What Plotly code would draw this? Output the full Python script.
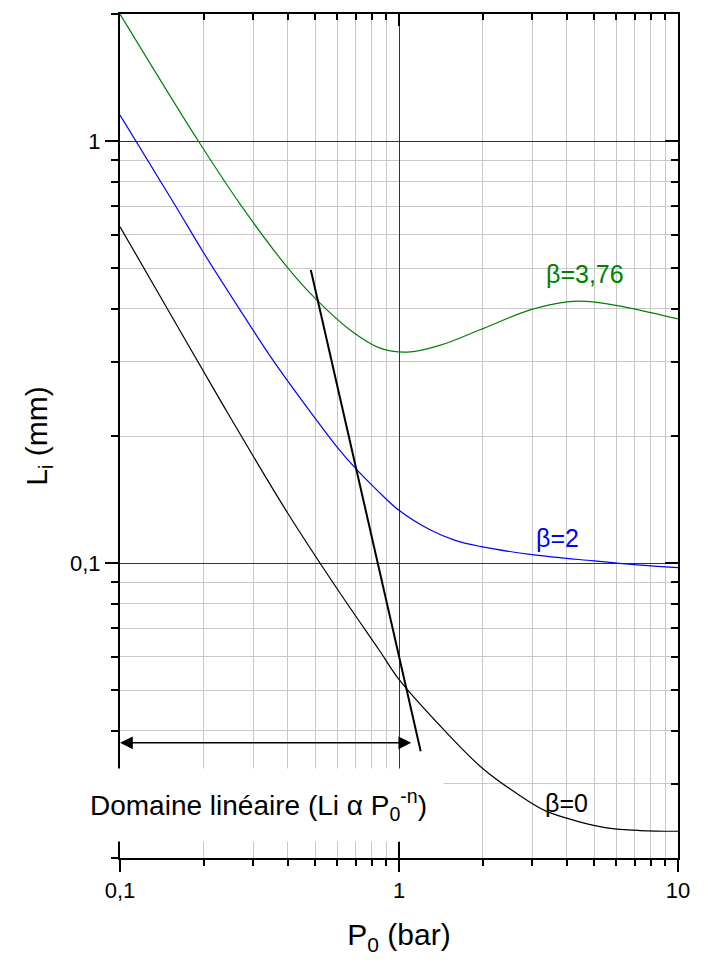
import numpy as np
import plotly.graph_objects as go

# ---- data ----
beta376_x = [0.1, 0.1909, 0.273, 0.4, 0.507, 0.6676, 0.855, 1.07, 1.40, 1.95, 2.95, 4.0, 4.96, 6.73, 10]
beta376_y = [2.0, 1.0, 0.700, 0.500, 0.4202, 0.3567, 0.323, 0.316, 0.328, 0.357, 0.398, 0.416, 0.416, 0.402, 0.379]

beta2_x = [0.1, 0.1574, 0.1989, 0.2692, 0.3594, 0.5, 0.5979, 0.7056, 0.832, 0.9942, 1.291, 1.6, 1.95,
           3.0, 4.96, 7.13, 10]
beta2_y = [1.152, 0.7055, 0.545, 0.398, 0.2976, 0.2205, 0.1888, 0.1664, 0.1491, 0.1337, 0.1199, 0.1130, 0.1095,
           0.1047, 0.1012, 0.0990, 0.0975]

beta0_x = [0.1, 0.151, 0.2283, 0.3958, 0.6144, 0.8548, 1.0, 1.483, 2.005, 2.715, 3.337, 4.3, 5.551, 7.308, 10]
beta0_y = [0.6267, 0.3908, 0.2436, 0.1325, 0.0849, 0.0618, 0.0530, 0.0396, 0.0325, 0.0281, 0.0259, 0.0245,
           0.02358, 0.02323, 0.02314]

slope_x = [0.483, 1.196]
slope_y = [0.495, 0.0358]

arrow_x = [0.1, 1.12]
arrow_y = 0.0375

x_major = [0.1, 1, 10]
x_major_text = ["0,1", "1", "10"]
y_major = [0.1, 1]
y_major_text = ["0,1", "1"]
x_minor = [m * d for d in (0.1, 1) for m in range(2, 10)]
y_minor = [m * d for d in (0.01, 0.1) for m in range(2, 10)] + [2]

labels = [("β=3,76", 4.66, 0.484, "#008000"),
          ("β=2", 3.70, 0.1148, "#0000ff"),
          ("β=0", 4.0, 0.02706, "#000000")]
domain_text = "Domaine linéaire (Li α P<sub>0</sub><sup>-n</sup>)"
domain_pos = (0.3124, 0.02677)

FONT = "Liberation Sans, Arial, sans-serif"
XR = [-1, 1]
YR = [np.log10(0.02), np.log10(2)]

fig = go.Figure()
curve_line = dict(width=1.2, shape="spline", smoothing=1.0)
fig.add_trace(go.Scatter(x=beta0_x, y=beta0_y, mode="lines", line=dict(color="black", **curve_line), hoverinfo="skip"))
fig.add_trace(go.Scatter(x=beta2_x, y=beta2_y, mode="lines", line=dict(color="#0000ff", **curve_line), hoverinfo="skip"))
fig.add_trace(go.Scatter(x=beta376_x, y=beta376_y, mode="lines", line=dict(color="#008000", **curve_line), hoverinfo="skip"))
fig.add_trace(go.Scatter(x=slope_x, y=slope_y, mode="lines", line=dict(color="black", width=2), hoverinfo="skip"))
# invisible traces so the mirrored tick axes exist
fig.add_trace(go.Scatter(x=beta0_x, y=beta0_y, xaxis="x2", yaxis="y", mode="lines", line=dict(width=0), opacity=0, hoverinfo="skip"))
fig.add_trace(go.Scatter(x=beta0_x, y=beta0_y, xaxis="x", yaxis="y2", mode="lines", line=dict(width=0), opacity=0, hoverinfo="skip"))
fig.add_trace(go.Scatter(x=beta0_x, y=beta0_y, xaxis="x3", yaxis="y", mode="lines", line=dict(width=0), opacity=0, hoverinfo="skip"))

common_minor_grid = dict(showgrid=True, gridcolor="#c8c8c8", gridwidth=1)

fig.update_layout(
    width=708, height=969,
    margin=dict(l=120, r=30, t=14, b=111),
    plot_bgcolor="white", paper_bgcolor="white",
    showlegend=False,
    font=dict(family=FONT, size=22, color="black"),
    xaxis=dict(type="log", range=XR, tickmode="array", tickvals=x_major, ticktext=x_major_text,
               ticks="outside", ticklen=12, tickwidth=2, tickcolor="black",
               showline=True, linewidth=2, linecolor="black", mirror=True,
               showgrid=True, gridcolor="#333333", gridwidth=1, zeroline=False,
               minor=dict(tickvals=x_minor, ticks="outside", ticklen=6, tickwidth=2, tickcolor="black", **common_minor_grid),
               title=dict(text="P<sub>0</sub> (bar)", font=dict(size=30), standoff=22)),
    xaxis2=dict(type="log", range=XR, overlaying="x", side="top", anchor="y", tickmode="array",
                tickvals=x_major, ticks="inside", ticklen=12, tickwidth=2, tickcolor="black",
                showticklabels=False, showgrid=False, showline=False, zeroline=False,
                minor=dict(tickvals=x_minor, ticks="inside", ticklen=6, tickwidth=2, tickcolor="black", showgrid=False)),
    xaxis3=dict(type="log", range=XR, overlaying="x", side="bottom", anchor="y", tickmode="array",
                tickvals=x_major, ticks="inside", ticklen=16, tickwidth=2, tickcolor="black",
                showticklabels=False, showgrid=False, showline=False, zeroline=False),
    yaxis=dict(type="log", range=YR, tickmode="array", tickvals=y_major, ticktext=y_major_text,
               ticks="outside", ticklen=13, tickwidth=2, tickcolor="black",
               showline=True, linewidth=2, linecolor="black", mirror=True,
               showgrid=True, gridcolor="#333333", gridwidth=1, zeroline=False,
               minor=dict(tickvals=y_minor, ticks="outside", ticklen=7, tickwidth=2, tickcolor="black", **common_minor_grid),
               title=dict(text="L<sub>i</sub> (mm)", font=dict(size=30), standoff=14)),
    yaxis2=dict(type="log", range=YR, overlaying="y", side="right", anchor="x", tickmode="array",
                tickvals=y_major, ticks="inside", ticklen=13, tickwidth=2, tickcolor="black",
                showticklabels=False, showgrid=False, showline=False, zeroline=False,
                minor=dict(tickvals=y_minor, ticks="inside", ticklen=7, tickwidth=2, tickcolor="black", showgrid=False)),
)

for txt, lx, ly, col in labels:
    fig.add_annotation(x=np.log10(lx), y=np.log10(ly), xref="x", yref="y", text=txt, showarrow=False,
                       font=dict(size=25, color=col, family=FONT))

fig.add_annotation(x=np.log10(domain_pos[0]), y=np.log10(domain_pos[1]), xref="x", yref="y",
                   text=domain_text, showarrow=False, bgcolor="white", borderpad=16,
                   font=dict(size=28, color="black", family=FONT))

fig.add_annotation(x=np.log10(arrow_x[0]), y=np.log10(arrow_y), ax=np.log10(arrow_x[1]), ay=np.log10(arrow_y),
                   xref="x", yref="y", axref="x", ayref="y", text="", showarrow=True,
                   arrowhead=2, startarrowhead=2, arrowside="end+start", arrowsize=1.6, startarrowsize=1.6,
                   arrowwidth=1.6, arrowcolor="black", standoff=0, startstandoff=0)

fig.write_html("out.html")
